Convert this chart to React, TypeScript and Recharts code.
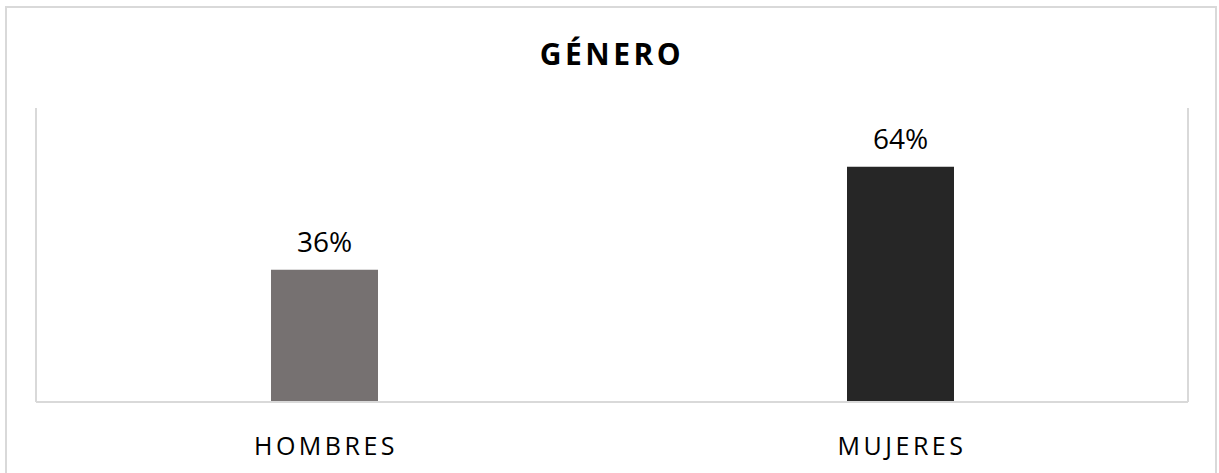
import { BarChart, Bar, XAxis, YAxis, CartesianGrid, LabelList, Cell } from 'recharts';

const categories = ['HOMBRES', 'MUJERES'];
const shares = [36, 64];
const barColors = ['#767171', '#262626'];
const gridTicks = [0, 1, 2];

const data = categories.map((name, i) => ({ name, value: shares[i], pos: i + 0.5 }));

const FONT = '"Open Sans", "DejaVu Sans", sans-serif';

function CategoryTick(props: any) {
  const { x, y, payload } = props;
  return (
    <text
      x={x + 2}
      y={y}
      dy={45}
      textAnchor="middle"
      fill="#000"
      fontSize={25}
      fontFamily={FONT}
      letterSpacing={3.5}
    >
      {payload.value}
    </text>
  );
}

export default function App() {
  return (
    <div style={{ position: 'fixed', left: 0, top: 0, width: 1219, height: 473, overflow: 'hidden', background: '#fff' }}>
      <div
        style={{
          position: 'absolute', left: 5, top: 6, width: 1212, height: 500,
          border: '2px solid #d9d9d9', boxSizing: 'border-box',
        }}
      />
      <div
        style={{
          position: 'absolute', left: 0, top: 39, width: 1219, textAlign: 'center',
          fontFamily: FONT, fontWeight: 700, fontSize: 30, lineHeight: '30px',
          letterSpacing: 3.5, paddingLeft: 5, boxSizing: 'border-box', color: '#000',
        }}
      >
        GÉNERO
      </div>
      <div style={{ position: 'absolute', left: 0, top: 0 }}>
        <BarChart
          width={1219}
          height={473}
          data={data}
          margin={{ top: 108, right: 31, bottom: 0, left: 36 }}
        >
          <CartesianGrid xAxisId="grid" horizontal={false} stroke="#d9d9d9" strokeWidth={2} />
          <XAxis
            dataKey="name"
            height={71}
            axisLine={{ stroke: '#d9d9d9', strokeWidth: 2 }}
            tickLine={false}
            tick={<CategoryTick />}
            interval={0}
          />
          <XAxis xAxisId="grid" type="number" domain={[0, 2]} ticks={gridTicks} hide />
          <YAxis hide domain={[0, 80]} />
          <Bar dataKey="value" barSize={107} isAnimationActive={false}>
            {data.map((d, i) => (
              <Cell key={d.name} fill={barColors[i]} />
            ))}
            <LabelList
              dataKey="value"
              position="top"
              offset={18}
              formatter={(v: any) => `${v}%`}
              fill="#000"
              fontSize={28}
              fontFamily={FONT}
            />
          </Bar>
        </BarChart>
      </div>
    </div>
  );
}
